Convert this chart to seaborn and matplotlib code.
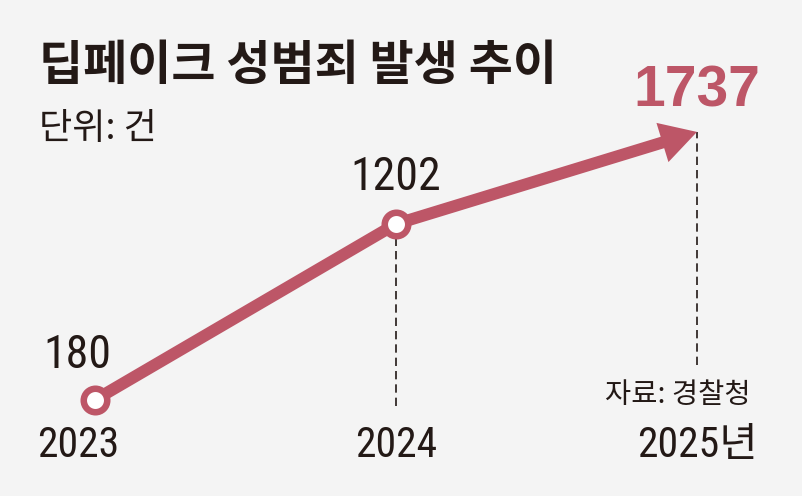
import matplotlib
matplotlib.use("Agg")
import matplotlib.pyplot as plt
import matplotlib.transforms as mtransforms
import seaborn as sns
import pandas as pd

# ---- data ----
years = [2023, 2024, 2025]
cases = [180, 1202, 1737]
year_labels = ["2023", "2024", "2025년"]
value_labels = ["180", "1202", "1737"]
title = "딥페이크 성범죄 발생 추이"
unit_text = "단위: 건"
source_text = "자료: 경찰청"

# ---- style ----
BG = "#f4f4f4"
LINE = "#bd5667"
INK = "#231916"
KR = ["Noto Sans CJK KR", "DejaVu Sans"]
NUM = ["Roboto Condensed", "Liberation Sans", "Noto Sans CJK KR", "DejaVu Sans"]
BOLDNUM = ["Liberation Sans", "DejaVu Sans"]

sns.set_theme(style="white", rc={"figure.facecolor": BG, "axes.facecolor": BG})
plt.rcParams["font.family"] = KR

df = pd.DataFrame({"year": years, "cases": cases})

fig = plt.figure(figsize=(8.03, 4.96), dpi=100)
ax = fig.add_axes([0, 0, 1, 1])
ax.set_facecolor(BG)
ax.set_xlim(2022.686, 2025.352)
ax.set_ylim(-377, 2503)
ax.axis("off")

# first segment (plain thick line)
sns.lineplot(data=df.iloc[:2], x="year", y="cases", ax=ax, color=LINE,
             linewidth=8.6, solid_capstyle="butt", zorder=2)

# last segment as arrow
ax.annotate("", xy=(years[2], cases[2]), xytext=(years[1], cases[1]),
            xycoords="data", textcoords="data",
            arrowprops=dict(arrowstyle="simple,head_length=26,head_width=29.5,tail_width=8.6",
                            mutation_scale=1, fc=LINE, ec="none", lw=0,
                            shrinkA=0, shrinkB=0), zorder=2.5)

# dashed guide lines
ax.vlines(years[1], 145, cases[1], colors=INK, linewidth=1.2,
          linestyles=(0, (5, 3)), zorder=1)
ax.vlines(years[2], 383, cases[2], colors=INK, linewidth=1.2,
          linestyles=(0, (5, 3)), zorder=1)

# ring markers for 2023, 2024
sns.scatterplot(data=df.iloc[:2], x="year", y="cases", ax=ax, s=286,
                color="white", edgecolor=LINE, linewidth=4.7, zorder=3, legend=False)

# value labels
offsets = [(-17, 32), (0, 34), (0, 25)]
for i, (x, y) in enumerate(zip(years, cases)):
    if i < 2:
        ax.annotate(value_labels[i], xy=(x, y), xytext=offsets[i], textcoords="offset pixels",
                    ha="center", va="baseline", fontsize=33, color=INK, family=NUM)
    else:
        ax.annotate(value_labels[i], xy=(x, y), xytext=offsets[i], textcoords="offset pixels",
                    ha="center", va="baseline", fontsize=41, fontweight="bold",
                    color=LINE, family=BOLDNUM)

# year labels
trans = mtransforms.blended_transform_factory(ax.transData, ax.transAxes)
year_dx = [-16, 0, 0]
for i, x in enumerate(years):
    ax.annotate(year_labels[i], xy=(x, 1 - 457 / 496), xycoords=trans,
                xytext=(year_dx[i], 0), textcoords="offset pixels",
                ha="center", va="baseline", fontsize=30, color=INK, family=NUM)

# titles
fig.text(39 / 803, 1 - 80 / 496, title, ha="left", va="baseline", fontsize=34.5,
         fontweight="bold", color=INK, family=KR)
fig.text(39 / 803, 1 - 139 / 496, unit_text, ha="left", va="baseline", fontsize=26,
         fontweight="light", color=INK, family=KR)
fig.text(751 / 803, 1 - 403 / 496, source_text, ha="right", va="baseline", fontsize=20.5,
         fontweight="light", color=INK, family=KR)

fig.savefig("out.png", dpi=100, facecolor=BG)
